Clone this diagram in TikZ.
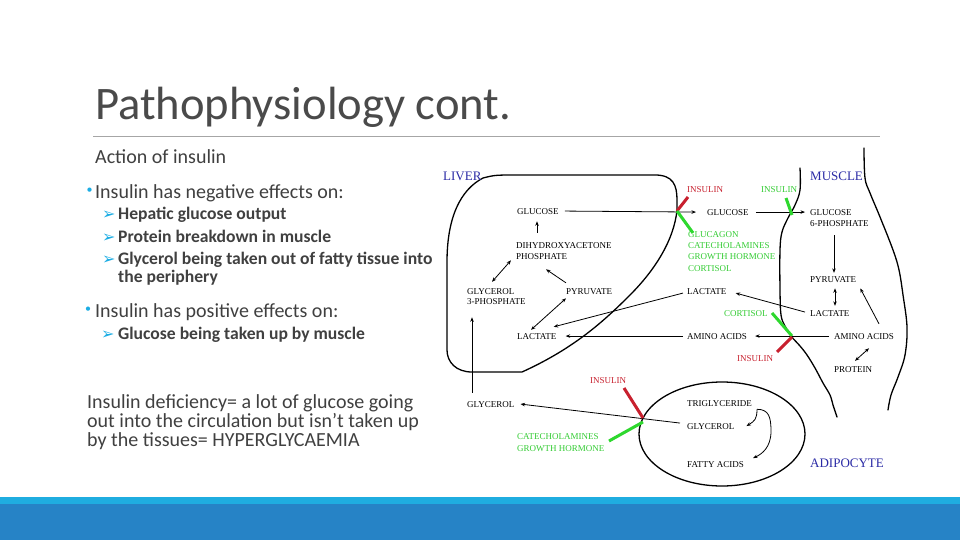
\documentclass[tikz,border=0pt]{standalone}
\usepackage{fontspec}
\setmainfont{Carlito}
\newfontfamily\diagfont{Liberation Serif}
\newfontfamily\symbfont{DejaVu Sans}
\usetikzlibrary{arrows.meta,calc}
\definecolor{txt}{HTML}{404040}
\definecolor{titlec}{HTML}{4A4A4A}
\definecolor{acc}{HTML}{1CADE4}
\definecolor{rulegray}{HTML}{A6A6A6}
\definecolor{barlight}{HTML}{1FADE0}
\definecolor{bardark}{HTML}{2683C6}
\definecolor{inhred}{HTML}{C8202E}
\definecolor{stimgreen}{HTML}{2ED82E}
\definecolor{stimtext}{HTML}{33CC33}
\definecolor{tissue}{HTML}{2B2BA6}
\tikzset{
  body/.style={anchor=base west, inner sep=0pt, text=txt},
  mainb/.style={body, font=\fontsize{20}{24}\selectfont},
  sub/.style={body, font=\bfseries\fontsize{17.6}{20}\selectfont},
  bul/.style={anchor=base west, inner sep=0pt, text=acc, font=\fontsize{12}{14}\selectfont},
  subbul/.style={anchor=base west, inner sep=0pt, text=acc, font=\symbfont\fontsize{16}{18}\selectfont},
  lbl/.style={anchor=base west, inner sep=0pt, font=\diagfont\fontsize{9}{11}\selectfont},
  redlbl/.style={lbl, text=inhred},
  grnlbl/.style={lbl, text=stimtext},
  organ/.style={anchor=base west, inner sep=0pt, font=\diagfont\fontsize{13}{15}\selectfont, text=tissue},
  arr/.style={-{Stealth[length=4.5pt,width=3.5pt]}, line width=0.8pt},
  darr/.style={{Stealth[length=4.5pt,width=3.5pt]}-{Stealth[length=4.5pt,width=3.5pt]}, line width=0.8pt},
  membrane/.style={line width=1.3pt, line join=round, line cap=round},
  inhbar/.style={line width=3pt, inhred},
  stimbar/.style={line width=3pt, stimgreen},
}
\begin{document}
\begin{tikzpicture}[x=1pt,y=-1pt]
\useasboundingbox (0,0) rectangle (960,540);
\fill[white] (0,0) rectangle (960,540);
\fill[barlight] (0,497) rectangle (960,504);
\fill[bardark] (0,504) rectangle (960,540);

% ---- slide text ----
\node[anchor=base west, inner sep=0pt, text=titlec, font=\fontsize{46.6}{47}\selectfont] (title) at (95,120) {Pathophysiology cont.};
\draw[rulegray, line width=0.8pt] (93,136) -- (880,136);
\node[mainb] (action) at (95,164) {Action of insulin};
\node[bul] (b1) at (86.5,193.5) {•};
\node[mainb] (neg) at (95,198) {Insulin has negative effects on:};
\node[subbul] (a1) at (102,219) {➢};
\node[sub] (s1) at (118,219) {Hepatic glucose output};
\node[subbul] (a2) at (102,242) {➢};
\node[sub] (s2) at (118,242) {Protein breakdown in muscle};
\node[subbul] (a3) at (102,264) {➢};
\node[sub] (s3) at (118,264) {Glycerol being taken out of fatty tissue into};
\node[sub] (s3b) at (118,282) {the periphery};
\node[bul] (b2) at (85,312.5) {•};
\node[mainb] (pos) at (95,317) {Insulin has positive effects on:};
\node[subbul] (a4) at (101,339) {➢};
\node[sub] (s4) at (118,339) {Glucose being taken up by muscle};
\node[mainb] (d1) at (87,408) {Insulin deficiency= a lot of glucose going};
\node[mainb] (d2) at (87,427) {out into the circulation but isn’t taken up};
\node[mainb] (d3) at (87,446) {by the tissues= HYPERGLYCAEMIA};

% ---- membranes ----
\draw[membrane] (483,178) .. controls (495,175) .. (520,175) -- (655,175)
  .. controls (673,175) and (677,185) .. (677,200) -- (677,210)
  .. controls (674,240) and (655,270) .. (630,295)
  .. controls (605,320) and (575,348) .. (522,372)
  -- (472,372) .. controls (456,372) and (447,362) .. (447,350) -- (447,262)
  .. controls (447,218) and (460,190) .. (483,178);
\draw[membrane] plot[smooth, tension=0.6] coordinates {(800,168) (800,190) (795,205) (788,218) (782,232) (780,250) (780,290) (781,315) (785,326) (791,336) (800,346) (807,355) (815,368) (823,383) (830,395) (833,405) (837,417)};
\draw[membrane] plot[smooth, tension=0.6] coordinates {(864,148) (865,178) (870,193) (880,217) (893,250) (899,270) (903,295) (907,327) (905,355) (898,377) (891,395) (888,410)};
\draw[membrane] (722,434) ellipse [x radius=83, y radius=52];

% ---- diagram labels ----
\node[organ] (liver) at (443,181) {LIVER};
\node[organ] (muscle) at (810,181) {MUSCLE};
\node[organ] (adipo) at (810,467) {ADIPOCYTE};
\node[lbl] (gluL) at (517,214) {GLUCOSE};
\node[lbl] (dhapA) at (516,248) {DIHYDROXYACETONE};
\node[lbl] (dhapB) at (516,259) {PHOSPHATE};
\node[lbl] (g3pA) at (467,294) {GLYCEROL};
\node[lbl] (g3pB) at (467,304) {3-PHOSPHATE};
\node[lbl] (pyrL) at (566,294) {PYRUVATE};
\node[lbl] (lacL) at (517,339) {LACTATE};
\node[lbl] (glyB) at (467,407) {GLYCEROL};
\node[redlbl] (insA) at (687,192) {INSULIN};
\node[grnlbl] (insB) at (761,192) {INSULIN};
\node[lbl] (gluM) at (707,215) {GLUCOSE};
\node[lbl] (g6pA) at (810,215) {GLUCOSE};
\node[lbl] (g6pB) at (810,226) {6-PHOSPHATE};
\node[grnlbl] (hA) at (688,237) {GLUCAGON};
\node[grnlbl] (hB) at (688,248) {CATECHOLAMINES};
\node[grnlbl] (hC) at (688,259) {GROWTH HORMONE};
\node[grnlbl] (hD) at (688,271) {CORTISOL};
\node[lbl] (lacM) at (687,294) {LACTATE};
\node[lbl] (pyrM) at (810,282) {PYRUVATE};
\node[lbl] (lacMu) at (810,316) {LACTATE};
\node[grnlbl] (cort) at (724,316) {CORTISOL};
\node[lbl] (aaM) at (687,339) {AMINO ACIDS};
\node[lbl] (aaMu) at (834,339) {AMINO ACIDS};
\node[redlbl] (insC) at (737,361) {INSULIN};
\node[lbl] (prot) at (834,372) {PROTEIN};
\node[redlbl] (insD) at (590,383) {INSULIN};
\node[lbl] (tg) at (687,406) {TRIGLYCERIDE};
\node[lbl] (glyA) at (687,429) {GLYCEROL};
\node[grnlbl] (cA) at (517,439) {CATECHOLAMINES};
\node[grnlbl] (cB) at (517,451) {GROWTH HORMONE};
\node[lbl] (fa) at (687,467) {FATTY ACIDS};

% ---- arrows ----
\draw[arr] ($(gluL.east)+(6,0)$) -- ($(gluM.west)+(-11,0)$);
\draw[arr] ($(dhapA.north west)+(21,-9)$) -- ($(gluL.south west)+(20,7)$);
\draw[darr] ($(dhapB.south west)+(-5,1)$) -- ($(g3pA.north west)+(25,-6)$);
\draw[arr] ($(pyrL.north west)+(0,-5)$) -- ($(dhapB.south west)+(30,10)$);
\draw[darr] ($(lacL.north west)+(14,-3)$) -- ($(pyrL.south west)+(0,4)$);
\draw[arr] ($(lacM.west)+(-4,2)$) -- ($(lacL.north east)+(-3,-6)$);
\draw[arr] ($(aaM.west)+(-4,0)$) -- ($(lacL.east)+(9,0)$);
\draw[arr] ($(glyB.north west)+(5,-8)$) -- ($(g3pB.south west)+(5,13)$);
\draw[arr] ($(glyA.west)+(-7,-3)$) -- ($(glyB.east)+(6,0)$);
\draw[arr] ($(gluM.east)+(7,0)$) -- ($(g6pA.west)+(-5,0)$);
\draw[arr] ($(g6pB.south west)+(24,9)$) -- ($(pyrM.north west)+(24,-3)$);
\draw[darr] ($(pyrM.south west)+(25,6)$) -- ($(lacMu.north west)+(25,-4)$);
\draw[arr] ($(lacMu.west)+(-5,-1)$) -- ($(lacM.east)+(9,2)$);
\draw[arr] ($(aaMu.west)+(-5,0)$) -- ($(aaM.east)+(8,0)$);
\draw[arr] ($(aaMu.north west)+(45,-9)$) -- ($(pyrM.south east)+(4,6)$);
\draw[darr] ($(prot.north west)+(21,-5)$) -- ($(aaMu.south west)+(35,9)$);
\coordinate (tgend) at ($(tg.south east)+(5,3)$);
\draw[arr] (tgend) .. controls ($(tgend)+(0,10)$) and ($(glyA.east)+(20,-5)$) .. ($(glyA.east)+(12,0)$);
\draw[arr] (tgend) .. controls ($(tgend)+(12,0)$) and ($(tgend)+(14,8)$) .. ($(tgend)+(14,22)$)
  .. controls ($(tgend)+(14,38)$) and ($(fa.east)+(18,-10)$) .. ($(fa.east)+(9,-6)$);

% ---- regulator bars ----
\draw[inhbar] (677,211) -- (688,197);
\draw[stimbar] (677,211) -- (693,233);
\draw[stimbar] (786,198) -- (792,215);
\draw[stimbar] (772,313) -- (792,336);
\draw[inhbar] (792,337) -- (777,352);
\draw[inhbar] (624,388) -- (643,418);
\draw[stimbar] (643,422) -- (609,441);
\end{tikzpicture}
\end{document}
